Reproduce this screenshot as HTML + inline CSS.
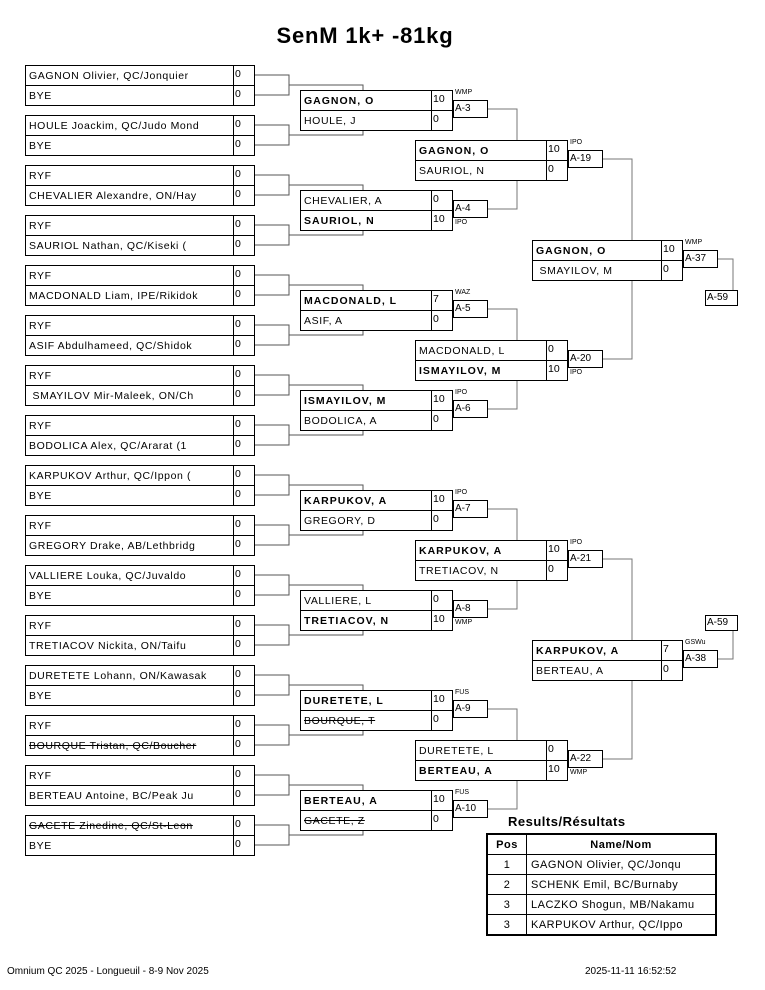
<!DOCTYPE html>
<html><head><meta charset="utf-8"><style>
body{margin:0;width:765px;height:990px;background:#fff;position:relative;font-family:"Liberation Sans",sans-serif;overflow:hidden}
.m{position:absolute;border:1px solid #000;box-sizing:border-box;background:#fff;font-size:10.5px;letter-spacing:0.6px;color:#000}
.r{height:19px;display:flex}
.r+.r{border-top:1px solid #000}
.n{flex:1;padding-left:3px;line-height:21px;white-space:nowrap;overflow:hidden}
.s{width:19px;border-left:1px solid #000;line-height:16px;padding-left:1px;font-size:10.5px;letter-spacing:0}
.b{font-weight:bold;letter-spacing:1px}
.x{text-decoration:line-through}
.a{position:absolute;border:1px solid #000;box-sizing:border-box;background:#fff;width:35px;height:18px;font-size:10px;line-height:15px;padding-left:1px}
.t{position:absolute;font-size:7px;letter-spacing:0}
svg{position:absolute;left:0;top:0}
.res{position:absolute;left:486px;top:833px;border-collapse:collapse;font-size:11px;border:2px solid #000}
.res td{border:1px solid #000;height:19px;padding:0 4px;letter-spacing:0.5px}
</style></head><body>
<div style="position:absolute;left:0;width:730px;top:23px;text-align:center;font-size:22px;font-weight:bold;letter-spacing:0.8px">SenM 1k+ -81kg</div>
<svg width="765" height="990"><g fill="none" stroke="#555" stroke-width="1">
<path d="M255 75H289V95H255M289 85H363V135H289M255 125H289V145H255"/>
<path d="M255 175H289V195H255M289 185H363V235H289M255 225H289V245H255"/>
<path d="M255 275H289V295H255M289 285H363V335H289M255 325H289V345H255"/>
<path d="M255 375H289V395H255M289 385H363V435H289M255 425H289V445H255"/>
<path d="M255 475H289V495H255M289 485H363V535H289M255 525H289V545H255"/>
<path d="M255 575H289V595H255M289 585H363V635H289M255 625H289V645H255"/>
<path d="M255 675H289V695H255M289 685H363V735H289M255 725H289V745H255"/>
<path d="M255 775H289V795H255M289 785H363V835H289M255 825H289V845H255"/>
</g><g fill="none" stroke="#777" stroke-width="1">
<path d="M488 109H517V140M488 209H517V180M488 309H517V340M488 409H517V380M488 509H517V540M488 609H517V580M488 709H517V740M488 809H517V780"/>
<path d="M602 159H632V240M602 359H632V280M602 559H632V640M602 759H632V680"/>
<path d="M717 259H733V290M717 659H733V631"/>
</g></svg>

<div class="m" style="left:25px;top:65px;width:230px"><div class="r"><div class="n">GAGNON Olivier, QC/Jonquier</div><div class="s">0</div></div><div class="r"><div class="n">BYE</div><div class="s">0</div></div></div>
<div class="m" style="left:25px;top:115px;width:230px"><div class="r"><div class="n">HOULE Joackim, QC/Judo Mond</div><div class="s">0</div></div><div class="r"><div class="n">BYE</div><div class="s">0</div></div></div>
<div class="m" style="left:25px;top:165px;width:230px"><div class="r"><div class="n">RYF</div><div class="s">0</div></div><div class="r"><div class="n">CHEVALIER Alexandre, ON/Hay</div><div class="s">0</div></div></div>
<div class="m" style="left:25px;top:215px;width:230px"><div class="r"><div class="n">RYF</div><div class="s">0</div></div><div class="r"><div class="n">SAURIOL Nathan, QC/Kiseki (</div><div class="s">0</div></div></div>
<div class="m" style="left:25px;top:265px;width:230px"><div class="r"><div class="n">RYF</div><div class="s">0</div></div><div class="r"><div class="n">MACDONALD Liam, IPE/Rikidok</div><div class="s">0</div></div></div>
<div class="m" style="left:25px;top:315px;width:230px"><div class="r"><div class="n">RYF</div><div class="s">0</div></div><div class="r"><div class="n">ASIF Abdulhameed, QC/Shidok</div><div class="s">0</div></div></div>
<div class="m" style="left:25px;top:365px;width:230px"><div class="r"><div class="n">RYF</div><div class="s">0</div></div><div class="r"><div class="n">&nbsp;SMAYILOV Mir-Maleek, ON/Ch</div><div class="s">0</div></div></div>
<div class="m" style="left:25px;top:415px;width:230px"><div class="r"><div class="n">RYF</div><div class="s">0</div></div><div class="r"><div class="n">BODOLICA Alex, QC/Ararat (1</div><div class="s">0</div></div></div>
<div class="m" style="left:25px;top:465px;width:230px"><div class="r"><div class="n">KARPUKOV Arthur, QC/Ippon (</div><div class="s">0</div></div><div class="r"><div class="n">BYE</div><div class="s">0</div></div></div>
<div class="m" style="left:25px;top:515px;width:230px"><div class="r"><div class="n">RYF</div><div class="s">0</div></div><div class="r"><div class="n">GREGORY Drake, AB/Lethbridg</div><div class="s">0</div></div></div>
<div class="m" style="left:25px;top:565px;width:230px"><div class="r"><div class="n">VALLIERE Louka, QC/Juvaldo</div><div class="s">0</div></div><div class="r"><div class="n">BYE</div><div class="s">0</div></div></div>
<div class="m" style="left:25px;top:615px;width:230px"><div class="r"><div class="n">RYF</div><div class="s">0</div></div><div class="r"><div class="n">TRETIACOV Nickita, ON/Taifu</div><div class="s">0</div></div></div>
<div class="m" style="left:25px;top:665px;width:230px"><div class="r"><div class="n">DURETETE Lohann, ON/Kawasak</div><div class="s">0</div></div><div class="r"><div class="n">BYE</div><div class="s">0</div></div></div>
<div class="m" style="left:25px;top:715px;width:230px"><div class="r"><div class="n">RYF</div><div class="s">0</div></div><div class="r"><div class="n x">BOURQUE Tristan, QC/Boucher</div><div class="s">0</div></div></div>
<div class="m" style="left:25px;top:765px;width:230px"><div class="r"><div class="n">RYF</div><div class="s">0</div></div><div class="r"><div class="n">BERTEAU Antoine, BC/Peak Ju</div><div class="s">0</div></div></div>
<div class="m" style="left:25px;top:815px;width:230px"><div class="r"><div class="n x">GACETE Zinedine, QC/St-Leon</div><div class="s">0</div></div><div class="r"><div class="n">BYE</div><div class="s">0</div></div></div>

<div class="m" style="left:300px;top:90px;width:153px"><div class="r"><div class="n b">GAGNON, O</div><div class="s">10</div></div><div class="r"><div class="n">HOULE, J</div><div class="s">0</div></div></div>
<div class="a" style="left:453px;top:100px">A-3</div><div class="t" style="left:455px;top:89px">WMP</div>
<div class="m" style="left:300px;top:190px;width:153px"><div class="r"><div class="n">CHEVALIER, A</div><div class="s">0</div></div><div class="r"><div class="n b">SAURIOL, N</div><div class="s">10</div></div></div>
<div class="a" style="left:453px;top:200px">A-4</div><div class="t" style="left:455px;top:219px">IPO</div>
<div class="m" style="left:300px;top:290px;width:153px"><div class="r"><div class="n b">MACDONALD, L</div><div class="s">7</div></div><div class="r"><div class="n">ASIF, A</div><div class="s">0</div></div></div>
<div class="a" style="left:453px;top:300px">A-5</div><div class="t" style="left:455px;top:289px">WAZ</div>
<div class="m" style="left:300px;top:390px;width:153px"><div class="r"><div class="n b">ISMAYILOV, M</div><div class="s">10</div></div><div class="r"><div class="n">BODOLICA, A</div><div class="s">0</div></div></div>
<div class="a" style="left:453px;top:400px">A-6</div><div class="t" style="left:455px;top:389px">IPO</div>
<div class="m" style="left:300px;top:490px;width:153px"><div class="r"><div class="n b">KARPUKOV, A</div><div class="s">10</div></div><div class="r"><div class="n">GREGORY, D</div><div class="s">0</div></div></div>
<div class="a" style="left:453px;top:500px">A-7</div><div class="t" style="left:455px;top:489px">IPO</div>
<div class="m" style="left:300px;top:590px;width:153px"><div class="r"><div class="n">VALLIERE, L</div><div class="s">0</div></div><div class="r"><div class="n b">TRETIACOV, N</div><div class="s">10</div></div></div>
<div class="a" style="left:453px;top:600px">A-8</div><div class="t" style="left:455px;top:619px">WMP</div>
<div class="m" style="left:300px;top:690px;width:153px"><div class="r"><div class="n b">DURETETE, L</div><div class="s">10</div></div><div class="r"><div class="n x">BOURQUE, T</div><div class="s">0</div></div></div>
<div class="a" style="left:453px;top:700px">A-9</div><div class="t" style="left:455px;top:689px">FUS</div>
<div class="m" style="left:300px;top:790px;width:153px"><div class="r"><div class="n b">BERTEAU, A</div><div class="s">10</div></div><div class="r"><div class="n x">GACETE, Z</div><div class="s">0</div></div></div>
<div class="a" style="left:453px;top:800px">A-10</div><div class="t" style="left:455px;top:789px">FUS</div>

<div class="m" style="left:415px;top:140px;width:153px"><div class="r"><div class="n b">GAGNON, O</div><div class="s">10</div></div><div class="r"><div class="n">SAURIOL, N</div><div class="s">0</div></div></div>
<div class="a" style="left:568px;top:150px">A-19</div><div class="t" style="left:570px;top:139px">IPO</div>
<div class="m" style="left:415px;top:340px;width:153px"><div class="r"><div class="n">MACDONALD, L</div><div class="s">0</div></div><div class="r"><div class="n b">ISMAYILOV, M</div><div class="s">10</div></div></div>
<div class="a" style="left:568px;top:350px">A-20</div><div class="t" style="left:570px;top:369px">IPO</div>
<div class="m" style="left:415px;top:540px;width:153px"><div class="r"><div class="n b">KARPUKOV, A</div><div class="s">10</div></div><div class="r"><div class="n">TRETIACOV, N</div><div class="s">0</div></div></div>
<div class="a" style="left:568px;top:550px">A-21</div><div class="t" style="left:570px;top:539px">IPO</div>
<div class="m" style="left:415px;top:740px;width:153px"><div class="r"><div class="n">DURETETE, L</div><div class="s">0</div></div><div class="r"><div class="n b">BERTEAU, A</div><div class="s">10</div></div></div>
<div class="a" style="left:568px;top:750px">A-22</div><div class="t" style="left:570px;top:769px">WMP</div>

<div class="m" style="left:532px;top:240px;width:151px"><div class="r"><div class="n b">GAGNON, O</div><div class="s">10</div></div><div class="r"><div class="n">&nbsp;SMAYILOV, M</div><div class="s">0</div></div></div>
<div class="a" style="left:683px;top:250px">A-37</div><div class="t" style="left:685px;top:239px">WMP</div>
<div class="a" style="left:705px;top:290px;height:16px;width:33px;line-height:13px">A-59</div>
<div class="m" style="left:532px;top:640px;width:151px"><div class="r"><div class="n b">KARPUKOV, A</div><div class="s">7</div></div><div class="r"><div class="n">BERTEAU, A</div><div class="s">0</div></div></div>
<div class="a" style="left:683px;top:650px">A-38</div><div class="t" style="left:685px;top:639px">GSWu</div>
<div class="a" style="left:705px;top:615px;height:16px;width:33px;line-height:13px">A-59</div>

<div style="position:absolute;left:508px;top:814px;font-size:13px;font-weight:bold;letter-spacing:0.5px">Results/Résultats</div>
<table class="res" style="width:231px">
<tr><td style="width:30px;text-align:center;font-weight:bold">Pos</td><td style="text-align:center;font-weight:bold">Name/Nom</td></tr>
<tr><td style="text-align:center">1</td><td>GAGNON Olivier, QC/Jonqu</td></tr>
<tr><td style="text-align:center">2</td><td>SCHENK Emil, BC/Burnaby</td></tr>
<tr><td style="text-align:center">3</td><td>LACZKO Shogun, MB/Nakamu</td></tr>
<tr><td style="text-align:center">3</td><td>KARPUKOV Arthur, QC/Ippo</td></tr>
</table>
<div style="position:absolute;left:7px;top:966px;font-size:10px">Omnium QC 2025 - Longueuil - 8-9 Nov 2025</div>
<div style="position:absolute;left:585px;top:966px;font-size:10px">2025-11-11 16:52:52</div>
</body></html>
